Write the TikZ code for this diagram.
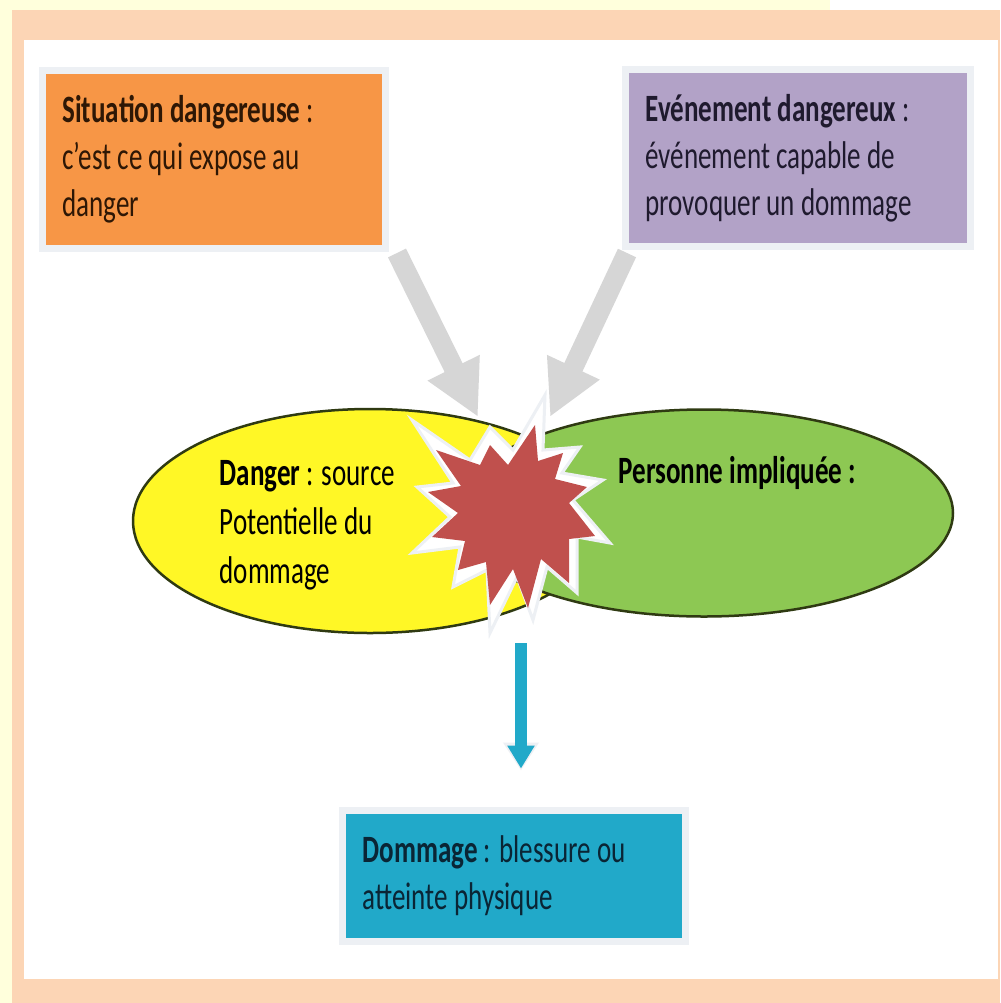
\documentclass[tikz,border=0pt]{standalone}
\usepackage{fontspec}
\setmainfont{Carlito}[FakeStretch=0.7]
\usetikzlibrary{positioning, shapes.geometric, arrows.meta}

\definecolor{pageyellow}{HTML}{FFFFDC}
\definecolor{framepeach}{HTML}{FCD5B5}
\definecolor{boxrim}{HTML}{EDF0F4}
\definecolor{sitorange}{HTML}{F79646}
\definecolor{sitink}{HTML}{2E1705}
\definecolor{evtpurple}{HTML}{B2A2C7}
\definecolor{evtink}{HTML}{1F1A2E}
\definecolor{dmgblue}{HTML}{21A9C9}
\definecolor{dmgink}{HTML}{0A2535}
\definecolor{dangeryellow}{HTML}{FFF726}
\definecolor{persgreen}{HTML}{8DC853}
\definecolor{blastred}{HTML}{C0504D}
\definecolor{arrowgray}{HTML}{D6D6D6}
\definecolor{blobrim}{HTML}{2F3A12}

\begin{document}
\begin{tikzpicture}[x=0.1mm, y=-0.1mm,
    box/.style={draw=boxrim, line width=0.7mm, inner xsep=2mm, inner ysep=0pt,
        text width=30.3mm, align=flush left, font=\fontsize{11pt}{13.4pt}\selectfont},
    blob/.style={ellipse, draw=blobrim, line width=0.25mm, inner sep=0pt},
    blobtext/.style={inner sep=0pt, align=left, anchor=west,
        font=\fontsize{11pt}{14pt}\selectfont},
    grayarrow/.style={draw=arrowgray, line width=2mm,
        -{Triangle[width=5.4mm,length=5.5mm]}}]
    \useasboundingbox (0,0) rectangle (1000,1003);

    % Page and frame
    \fill[pageyellow] (0,0) rectangle (1000,1003);
    \fill[white] (830,0) rectangle (1000,10);
    \fill[framepeach] (12,10) rectangle (1000,1003);
    \fill[white] (24,40) rectangle (998,979);

    % Top boxes
    \node[box, fill=sitorange, text=sitink, minimum height=17.8mm] (sit) at (214,159.5)
        {\textbf{Situation dangereuse} :\\ c’est ce qui expose au\\ danger};
    \node[box, fill=evtpurple, text=evtink, minimum height=17.7mm, text width=30.5mm] (evt) at (798,158)
        {\textbf{Evénement dangereux} :\\ événement capable de\\ provoquer un dommage};

    % Two ellipses
    \node[blob, fill=dangeryellow, minimum width=47.4mm, minimum height=22.4mm] (danger) at (370,521) {};
    \node[blob, fill=persgreen, minimum width=49.8mm, minimum height=20.7mm] (pers) at (704,513) {};

    % Gray arrows into the blast
    \coordinate (hitL) at (478,417);
    \coordinate (hitR) at (550,417);
    \draw[grayarrow] ([xshift=0.8mm,yshift=-0.1mm]sit.south east) -- (hitL);
    \draw[grayarrow] ([xshift=0.5mm,yshift=-0.3mm]evt.south west) -- (hitR);

    % Blast
    \fill[white, draw=boxrim, line width=0.3mm, line join=miter]
        (412,420) -- (470,460) -- (490,427) -- (513,450) -- (545,395) -- (543,450)
        -- (580,447) -- (562,473) -- (603,480) -- (573,500) -- (610,543) -- (577,537)
        -- (577,593) -- (547,567) -- (533,620) -- (517,577) -- (490,633) -- (487,570)
        -- (453,587) -- (460,547) -- (412,553) -- (450,517) -- (417,487) -- (453,483) -- cycle;
    \fill[blastred]
        (436,450) -- (480,465) -- (490,445) -- (508,465) -- (535,425) -- (538,461)
        -- (563,453) -- (555,479) -- (587,487) -- (569,503) -- (595,536) -- (569,539)
        -- (569,583) -- (541,559) -- (528,608) -- (513,569) -- (490,605) -- (486,562)
        -- (458,570) -- (465,541) -- (432,537) -- (458,513) -- (428,492) -- (461,486) -- cycle;

    % Ellipse texts
    \node[blobtext] (dangertxt) at (219,525) {\textbf{Danger} : source\\ Potentielle du\\ dommage};
    \node[blobtext] (perstxt) at (618,473) {\textbf{Personne impliquée :}};

    % Result box and arrow
    \node[box, fill=dmgblue, text=dmgink, minimum height=13.1mm] (dmg) at (514,876)
        {\textbf{Dommage} : blessure ou\\ atteinte physique};
    \coordinate (drop) at (521,643);
    \draw[draw=boxrim, line width=1.2mm, shorten >=3.65mm, -{Triangle[width=3.4mm,length=2.8mm]}]
        (drop) -- (drop |- dmg.north);
    \draw[draw=dmgblue, line width=1.2mm, shorten >=3.85mm, -{Triangle[width=2.6mm,length=2.3mm]}]
        (drop) -- (drop |- dmg.north);
\end{tikzpicture}
\end{document}
